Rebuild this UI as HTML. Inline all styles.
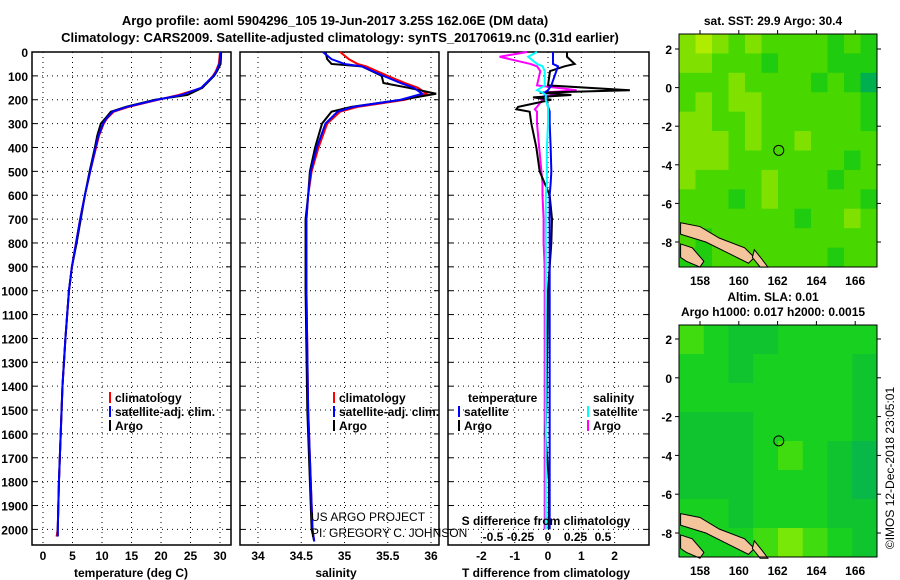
<!DOCTYPE html>
<html><head><meta charset="utf-8"><style>
body{margin:0;background:#fff}
svg{display:block;font-family:"Liberation Sans",Arial,sans-serif}
.b{font-weight:bold;font-size:13px}
.t{font-weight:bold;font-size:12px}
.n{font-weight:normal;font-size:12px}
</style></head><body>
<svg id="c" width="900" height="580" viewBox="0 0 900 580"></svg>
<script>
// ---- data ----
const depthT=[0,50,80,100,150,180,200,230,250,280,300,350,400,500,600,700,800,900,1000,1200,1400,1600,1800,2000,2030];
const argoT=[30.2,30.1,29.5,29,27,24.5,19,14,11.5,10.5,9.8,9.2,8.8,7.9,7.1,6.4,5.7,4.9,4.4,3.8,3.3,3.0,2.7,2.5,2.5];
const climT=[30,29.8,29.3,28.8,27,23,19.5,14.5,12,10.8,10.3,9.5,9,8,7.1,6.3,5.6,4.9,4.4,3.8,3.3,3.0,2.7,2.5,2.3];
const satT=[30.1,29.9,29.4,28.9,26.8,23.5,19.3,14.2,11.8,10.7,10.2,9.4,8.9,8,7.1,6.3,5.6,4.9,4.4,3.8,3.3,3.0,2.7,2.5,2.5];
const depthS=[0,30,50,60,100,130,150,175,200,230,250,300,400,500,600,700,1000,1500,2000,2050];
const argoS=[34.78,34.8,34.85,35.2,35.43,35.45,35.74,36.06,35.66,35.08,34.85,34.74,34.66,34.6,34.58,34.55,34.55,34.57,34.62,34.65];
const climS=[34.95,35.05,35.15,35.25,35.5,35.7,35.85,35.95,35.7,35.15,34.95,34.8,34.7,34.62,34.58,34.56,34.56,34.58,34.63,34.65];
const satS=[34.75,34.85,35.0,35.2,35.45,35.65,35.8,35.9,35.65,35.1,34.92,34.78,34.68,34.61,34.58,34.56,34.56,34.58,34.63,34.65];
const depthD=[0,20,50,60,80,140,160,170,180,190,200,230,240,250,300,400,500,550,600,700,800,900,1000,1200,1500,1600,1800,2000];
const argoDT=[0.57,0.57,0.8,0.5,0.06,0,2.46,-0.25,0.7,-0.45,0.1,-0.9,-0.95,-0.55,-0.5,-0.35,-0.25,-0.1,0.05,0.12,0.1,0.05,0,-0.02,-0.05,-0.08,0.03,0.02];
const satDT=[0.15,0.15,0.15,0.3,0.25,0.1,0,-0.1,-0.1,-0.05,-0.05,0,0.03,0.05,0.05,0.08,0.1,0.08,0.05,0.05,0.05,0.05,0.05,0.05,0.05,0.05,0.05,0.05];
const argoDS=[-0.19,-0.44,-0.16,-0.1,-0.07,-0.1,0.26,-0.05,0.1,-0.1,-0.05,-0.1,-0.12,-0.1,-0.1,-0.08,-0.06,-0.05,-0.05,-0.04,-0.04,-0.03,-0.03,-0.03,-0.03,-0.03,-0.03,-0.03];
const satDS=[-0.1,-0.18,-0.1,-0.05,-0.03,-0.03,-0.1,-0.05,-0.02,-0.02,-0.02,0,0,0,0,-0.01,-0.01,-0.01,-0.02,-0.02,-0.02,-0.02,-0.02,-0.02,-0.02,-0.02,-0.02,-0.02];
const depthTicks=[0,100,200,300,400,500,600,700,800,900,1000,1100,1200,1300,1400,1500,1600,1700,1800,1900,2000];
const tTicks=[0,5,10,15,20,25,30];
const sTicks=[34,34.5,35,35.5,36];
const dtTicks=[-2,-1,0,1,2];
const dsTicks=[-0.5,-0.25,0,0.25,0.5];
const lonTicks=[158,160,162,164,166];
const latTicks=[2,0,-2,-4,-6,-8];
// SST map levels (0 = teal, 4 = yellow), rows north->south
const sstGrid=[
[3,4,3,2,3,2,2,2,2,1,2,1],
[3,3,2,2,2,1,2,2,2,1,1,1],
[2,2,2,3,2,2,2,2,1,2,1,0],
[2,3,2,3,3,2,2,2,2,2,2,1],
[3,3,2,2,3,2,2,2,2,2,2,1],
[3,3,3,2,3,2,2,3,2,2,2,2],
[3,3,3,2,2,2,2,2,2,2,1,2],
[3,2,2,2,2,3,2,2,2,1,2,2],
[2,2,2,1,2,3,2,2,2,2,2,1],
[2,2,2,2,2,2,2,1,2,2,3,2],
[2,1,2,2,2,2,2,2,2,2,2,2],
[1,1,2,2,2,2,2,2,2,1,2,2]];
const slaGrid=[
[3,2,1,1,2,2,2,2],
[2,2,1,2,2,2,2,1],
[2,2,2,2,2,2,2,1],
[1,1,1,2,2,2,2,1],
[1,1,1,2,3,2,1,0],
[1,1,1,2,2,2,1,0],
[2,2,1,2,2,2,1,1],
[2,2,2,3,4,3,2,1]];
const sstCols=["#00b050","#20cc10","#48d800","#80e000","#b0ec00"];
const slaCols=["#08b848","#10c430","#18d020","#40dc10","#78e808"];
// ---- helpers ----
const S=document.getElementById('c');const NS="http://www.w3.org/2000/svg";
function mk(tag,at,parent){const e=document.createElementNS(NS,tag);for(const k in at)e.setAttribute(k,at[k]);(parent||S).appendChild(e);return e;}
function txt(x,y,s,cls,anchor,parent){const e=mk('text',{x:x,y:y,class:cls||'t','text-anchor':anchor||'middle'},parent);e.textContent=s;return e;}
const yD=d=>52+d*0.2387;
const xT=v=>43+v*5.9, xS=v=>258+(v-34)*86.5, xDT=v=>548+v*33.3, xDS=v=>548+v*110;
const P1={x0:32,x1:231},P2={x0:240,x1:439},P3={x0:448,x1:649};
const TOP=52,BOT=545;
function panel(name,P,ticks,xf){
  const g=mk('g',{});
  ticks.forEach(v=>mk('line',{x1:xf(v),x2:xf(v),y1:TOP,y2:BOT,stroke:'#000','stroke-dasharray':'1 4','stroke-width':1},g));
  depthTicks.forEach(d=>{mk('line',{x1:P.x0,x2:P.x1,y1:yD(d),y2:yD(d),stroke:'#000','stroke-dasharray':'1 4'},g);
    mk('line',{x1:P.x0,x2:P.x0+5,y1:yD(d),y2:yD(d),stroke:'#000'},g);mk('line',{x1:P.x1-5,x2:P.x1,y1:yD(d),y2:yD(d),stroke:'#000'},g);});
  mk('rect',{x:P.x0,y:TOP,width:P.x1-P.x0,height:BOT-TOP,fill:'none',stroke:'#000','stroke-width':1.5},g);
  return g;}
function line(g,name,ds,vs,xf,col,w){const p=mk('polyline',{points:ds.map((d,i)=>xf(vs[i])+','+yD(d)).join(' '),fill:'none',stroke:col,'stroke-width':w||2},g);}
// titles
const t1=txt(335,25,'Argo profile: aoml 5904296_105 19-Jun-2017 3.25S 162.06E (DM data)','b');
const t2=txt(340,42,'Climatology: CARS2009. Satellite-adjusted climatology: synTS_20170619.nc (0.31d earlier)','b');
// depth labels
const dl=mk('g',{});
depthTicks.forEach(d=>txt(28,yD(d)+5,String(d),'t','end',dl));
// panel 1
const g1=panel('temperature-panel',P1,tTicks,xT);
line(g1,'temp-climatology',depthT,climT,xT,'#f00');line(g1,'temp-argo',depthT,argoT,xT,'#000');line(g1,'temp-satellite',depthT,satT,xT,'#00f');
tTicks.forEach(v=>txt(xT(v),560,String(v),'t','middle',g1));
txt(131,577,'temperature (deg C)','t','middle',g1);
// panel 2
const g2=panel('salinity-panel',P2,sTicks,xS);
line(g2,'sal-climatology',depthS,climS,xS,'#f00');line(g2,'sal-argo',depthS,argoS,xS,'#000');line(g2,'sal-satellite',depthS,satS,xS,'#00f');
sTicks.forEach(v=>txt(xS(v),560,String(v),'t','middle',g2));
txt(336,577,'salinity','t','middle',g2);
txt(311,521,'US ARGO PROJECT','n','start',g2);
txt(311,537,'PI: GREGORY C. JOHNSON','n','start',g2);
// panel 3
const g3=panel('difference-panel',P3,dtTicks,xDT);
line(g3,'sdiff-argo',depthD,argoDS,xDS,'#f0f');line(g3,'tdiff-argo',depthD,argoDT,xDT,'#000');line(g3,'tdiff-satellite',depthD,satDT,xDT,'#00f');line(g3,'sdiff-satellite',depthD,satDS,xDS,'#0ff');
dtTicks.forEach(v=>txt(xDT(v),560,String(v),'t','middle',g3));
dsTicks.forEach(v=>txt(xDS(v),541,String(v),'t','middle',g3));
txt(546,525,'S difference from climatology','t','middle',g3);
txt(546,577,'T difference from climatology','t','middle',g3);
// legends
function leg(x,y,col,label,parent){mk('rect',{x:x,y:y-10,width:2,height:11,fill:col},parent);txt(x+6,y,label,'t','start',parent);}
const l1=mk('g',{});
leg(109,402,'#f00','climatology',l1);leg(109,416,'#00f','satellite-adj. clim.',l1);leg(109,430,'#000','Argo',l1);
const l2=mk('g',{});
leg(333,402,'#f00','climatology',l2);leg(333,416,'#00f','satellite-adj. clim.',l2);leg(333,430,'#000','Argo',l2);
const l3=mk('g',{});
txt(468,402,'temperature','t','start',l3);leg(458,416,'#00f','satellite',l3);leg(458,430,'#000','Argo',l3);
txt(593,402,'salinity','t','start',l3);leg(587,416,'#0ff','satellite',l3);leg(587,430,'#f0f','Argo',l3);
// maps
const M1={x0:679,x1:877,y0:34,y1:267,lat2:49,latm8:242};
const M2={x0:679,x1:877,y0:325,y1:557,lat2:339,latm8:533};
const xL=lon=>700+(lon-158)*19.4;
function map(name,M,grid,cols,title,sub){
  const g=mk('g',{});
  const yLat=l=>M.lat2+(2-l)*(M.latm8-M.lat2)/10;
  const R=grid.length,C=grid[0].length,cw=(M.x1-M.x0)/C,ch=(M.y1-M.y0)/R;
  grid.forEach((row,r)=>row.forEach((v,c)=>mk('rect',{x:M.x0+c*cw,y:M.y0+r*ch,width:cw+0.5,height:ch+0.5,fill:cols[v]},g)));
  const land=[[[157,-7.0],[158,-7.2],[159,-7.8],[160.3,-8.3],[160.8,-8.8],[160.5,-9.1],[159.5,-8.6],[158.3,-8.0],[157,-7.6]],
              [[157,-8.1],[157.6,-8.3],[158.2,-9.0],[158,-9.3],[157.3,-9.0],[157,-8.8]],
              [[160.8,-8.4],[161.2,-8.9],[161.5,-9.3],[161.1,-9.3],[160.7,-8.8]]];
  land.forEach(pg=>mk('polygon',{points:pg.map(p=>xL(p[0])+','+yLat(p[1])).join(' '),fill:'#f4c49c',stroke:'#000','stroke-width':1},g));
  mk('circle',{cx:xL(162.06),cy:yLat(-3.25),r:5,fill:'none',stroke:'#000'},g);
  mk('rect',{x:M.x0,y:M.y0,width:M.x1-M.x0,height:M.y1-M.y0,fill:'none',stroke:'#000'},g);
  latTicks.forEach(l=>{txt(672,yLat(l)+5,String(l),'t','end',g);mk('line',{x1:M.x0-4,x2:M.x0,y1:yLat(l),y2:yLat(l),stroke:'#000'},g);mk('line',{x1:M.x1,x2:M.x1+4,y1:yLat(l),y2:yLat(l),stroke:'#000'},g);});
  lonTicks.forEach(l=>{txt(xL(l),M.y1+18,String(l),'t','middle',g);mk('line',{x1:xL(l),x2:xL(l),y1:M.y0-4,y2:M.y0,stroke:'#000'},g);});
  txt(773,title[1],title[0],'t','middle',g);
  if(sub)txt(773,sub[1],sub[0],'t','middle',g);
}
map('sst-map',M1,sstGrid,sstCols,['sat. SST: 29.9 Argo: 30.4',25]);
map('sla-map',M2,slaGrid,slaCols,['Altim. SLA: 0.01',301],['Argo h1000: 0.017 h2000: 0.0015',316]);
const ims=mk('text',{x:0,y:0,transform:'translate(894,468) rotate(-90)','text-anchor':'middle','font-size':'12'});ims.textContent='©IMOS 12-Dec-2018 23:05:01';


</script>
</body></html>
